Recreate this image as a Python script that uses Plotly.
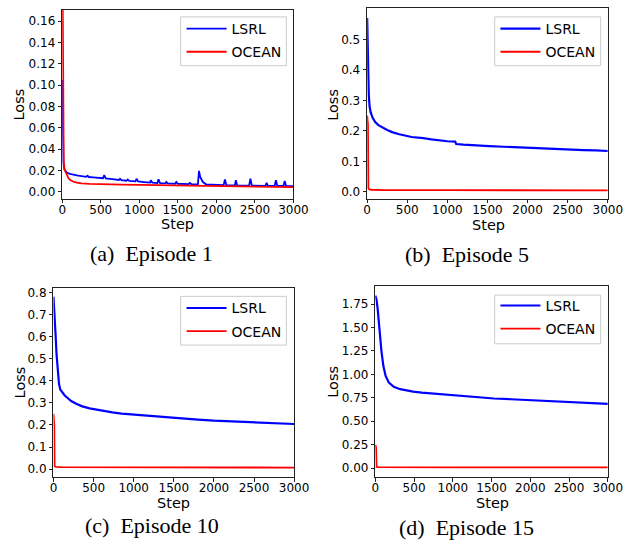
import plotly.graph_objects as go

# ---------------- data ----------------
# (a) Episode 1
a_lsrl_step = [0, 4, 8, 12, 16, 21, 30, 45, 63, 100, 150, 189, 250, 310, 330, 345, 400, 480, 530, 545, 565, 650, 735, 750, 770,
               835, 850, 870, 950, 965, 985, 1060, 1140, 1150, 1170, 1235, 1250, 1270, 1340, 1350, 1370, 1465, 1480, 1500,
               1560, 1640, 1655, 1680, 1760, 1775, 1790, 1825, 1870, 1950, 2095, 2111, 2130, 2240, 2253, 2270, 2425, 2442,
               2460, 2635, 2652, 2670, 2755, 2773, 2790, 2870, 2887, 2905, 2960, 3000]
a_lsrl_val = [0.105, 0.075, 0.050, 0.035, 0.028, 0.024, 0.021, 0.0195, 0.018, 0.0170, 0.0160, 0.0155, 0.0148, 0.0142, 0.0152,
              0.0140, 0.0137, 0.0132, 0.0129, 0.0158, 0.0128, 0.0120, 0.0112, 0.0124, 0.0111, 0.0105, 0.0116, 0.0104, 0.0099,
              0.0124, 0.0098, 0.0093, 0.0088, 0.0110, 0.0087, 0.0083, 0.0118, 0.0082, 0.0080, 0.0094, 0.0080, 0.0077, 0.0094,
              0.0077, 0.0076, 0.0073, 0.0084, 0.0072, 0.0070, 0.0198, 0.0140, 0.0093, 0.0070, 0.0067, 0.0064, 0.0118, 0.0064,
              0.0062, 0.0110, 0.0062, 0.0060, 0.0124, 0.0060, 0.0058, 0.0084, 0.0058, 0.0057, 0.0110, 0.0057, 0.0056, 0.0102,
              0.0056, 0.0055, 0.0055]
a_ocean_step = [0, 6, 10, 15, 20, 30, 45, 60, 80, 105, 140, 189, 250, 356, 500, 776, 1000, 1552, 2000, 2500, 3000]
a_ocean_val = [0.25, 0.20, 0.09, 0.045, 0.028, 0.021, 0.018, 0.0155, 0.0130, 0.0112, 0.0098, 0.0087, 0.0080, 0.0075, 0.0071,
               0.0068, 0.0066, 0.0062, 0.0057, 0.0051, 0.0045]

# (b) Episode 5
b_lsrl_step = [0, 5, 10, 15, 20, 30, 45, 70, 100, 140, 190, 250, 311, 400, 553, 650, 700, 800, 916, 1000, 1097, 1110, 1200,
               1300, 1400, 1520, 1700, 1850, 2005, 2200, 2350, 2490, 2700, 2850, 3000]
b_lsrl_val = [0.57, 0.50, 0.43, 0.37, 0.32, 0.28, 0.26, 0.242, 0.229, 0.219, 0.211, 0.203, 0.196, 0.189, 0.180, 0.178, 0.176,
              0.172, 0.168, 0.166, 0.165, 0.157, 0.155, 0.153, 0.152, 0.150, 0.148, 0.146, 0.144, 0.142, 0.140, 0.139, 0.137,
              0.136, 0.134]
b_ocean_step = [0, 10, 15, 25, 60, 200, 1000, 2000, 3000]
b_ocean_val = [0.25, 0.22, 0.012, 0.008, 0.007, 0.006, 0.0055, 0.0053, 0.0052]

# (c) Episode 10
c_lsrl_step = [0, 8, 15, 28, 38, 48, 58, 69, 85, 109, 140, 169, 220, 290, 360, 451, 550, 640, 734, 850, 1016, 1200, 1350,
               1500, 1650, 1800, 2000, 2250, 2500, 2750, 3000]
c_lsrl_val = [0.78, 0.74, 0.68, 0.595, 0.52, 0.46, 0.42, 0.385, 0.36, 0.347, 0.333, 0.324, 0.308, 0.295, 0.284, 0.275, 0.268,
              0.262, 0.257, 0.251, 0.246, 0.240, 0.235, 0.231, 0.229, 0.224, 0.219, 0.216, 0.212, 0.208, 0.204]
c_ocean_step = [0, 10, 14, 30, 100, 1000, 2000, 3000]
c_ocean_val = [0.25, 0.20, 0.013, 0.010, 0.009, 0.008, 0.0075, 0.007]

# (d) Episode 15
d_lsrl_step = [0, 15, 29, 54, 79, 104, 133, 175, 238, 321, 400, 488, 600, 739, 880, 1030, 1200, 1350, 1531, 1750, 2000, 2250,
               2500, 2750, 3000]
d_lsrl_val = [1.84, 1.80, 1.708, 1.46, 1.248, 1.089, 0.983, 0.912, 0.867, 0.842, 0.828, 0.817, 0.806, 0.796, 0.786, 0.778,
              0.766, 0.754, 0.743, 0.735, 0.725, 0.713, 0.700, 0.694, 0.686]
d_ocean_step = [0, 10, 16, 40, 1000, 2000, 3000]
d_ocean_val = [0.25, 0.22, 0.012, 0.010, 0.009, 0.0085, 0.008]

x_ticks = [0, 500, 1000, 1500, 2000, 2500, 3000]
captions = ["(a)\u00a0 Episode 1", "(b)\u00a0 Episode 5", "(c)\u00a0 Episode 10", "(d)\u00a0 Episode 15"]

panels = [
    (a_lsrl_step, a_lsrl_val, a_ocean_step, a_ocean_val),
    (b_lsrl_step, b_lsrl_val, b_ocean_step, b_ocean_val),
    (c_lsrl_step, c_lsrl_val, c_ocean_step, c_ocean_val),
    (d_lsrl_step, d_lsrl_val, d_ocean_step, d_ocean_val),
]

# ---------------- layout geometry ----------------
W, H = 639, 542
def px(x):
    return x / W
def py(y):
    return 1 - y / H

boxes = [  # left, right, top, bottom (pixels)
    (60, 298.3, 7, 197),
    (374.3, 622.3, 5, 197),
    (51, 299, 286.7, 476.7),
    (382.7, 622.3, 285, 476.7),
]
yranges = [[-0.0065, 0.1705], [-0.023, 0.603], [-0.036, 0.819], [-0.095, 1.938]]
ytickvals = [
    [0, 0.02, 0.04, 0.06, 0.08, 0.10, 0.12, 0.14, 0.16],
    [0, 0.1, 0.2, 0.3, 0.4, 0.5],
    [0, 0.1, 0.2, 0.3, 0.4, 0.5, 0.6, 0.7, 0.8],
    [0, 0.25, 0.5, 0.75, 1.0, 1.25, 1.5, 1.75],
]
yfmt = [".2f", ".1f", ".1f", ".2f"]
legend_frame = [(182, 291, 14, 63), (505.7, 615, 14, 63), (182, 291, 295, 344), (505.7, 615, 293.7, 342.7)]
legend_pos = [(183, 10), (506.5, 10), (183, 291), (506.5, 288.5)]
loss_pos = [(15, 102.5), (339.5, 102), (16, 382), (339, 381)]
step_pos = [(178.5, 222), (499, 223), (175, 503), (503, 503)]
cap_pos = [(152.5, 252), (476.7, 253), (153, 525), (477, 527)]
line_w = [1.8, 2.2, 2.2, 2.2]

fig = go.Figure()
sans = "DejaVu Sans"
layout = dict(
    width=W, height=H, margin=dict(l=0, r=0, t=0, b=0),
    paper_bgcolor="white", plot_bgcolor="white",
    font=dict(family=sans, size=13, color="black"),
    showlegend=True, annotations=[], shapes=[],
)

for i, (ls, lv, os_, ov) in enumerate(panels):
    n = "" if i == 0 else str(i + 1)
    leg = "legend" if i == 0 else "legend" + str(i + 1)
    fig.add_trace(go.Scatter(x=ls, y=lv, mode="lines", name="LSRL", line=dict(color="#0000ff", width=line_w[i]),
                             xaxis="x" + n, yaxis="y" + n, legend=leg, legendgroup="l%d" % i))
    fig.add_trace(go.Scatter(x=os_, y=ov, mode="lines", name="OCEAN", line=dict(color="#ff0000", width=1.8),
                             xaxis="x" + n, yaxis="y" + n, legend=leg, legendgroup="o%d" % i))
    l, r, t, b = boxes[i]
    common = dict(showgrid=False, zeroline=False, showline=True, linecolor="#222222", linewidth=1, mirror=True,
                  ticks="outside", ticklen=3.5, tickwidth=1, tickcolor="#222222",
                  tickfont=dict(family=sans, size=12, color="black"))
    layout["xaxis" + n] = dict(domain=[px(l), px(r)], anchor="y" + n, range=[0, 3000], tickvals=x_ticks,
                               ticktext=[str(v) for v in x_ticks], ticklabelstandoff=-4, **common)
    layout["yaxis" + n] = dict(domain=[py(b), py(t)], anchor="x" + n, range=yranges[i], tickvals=ytickvals[i],
                               tickformat=yfmt[i], **common)
    fl, fr, ft, fb = legend_frame[i]
    layout["shapes"].append(dict(type="rect", xref="paper", yref="paper", x0=px(fl), x1=px(fr), y0=py(fb), y1=py(ft),
                                 line=dict(color="#cccccc", width=1), fillcolor="rgba(255,255,255,0.8)", layer="above"))
    lx, ly = legend_pos[i]
    layout[leg] = dict(x=px(lx), y=py(ly), xanchor="left", yanchor="top", bgcolor="rgba(0,0,0,0)",
                       borderwidth=0, font=dict(family=sans, size=14, color="black"),
                       tracegroupgap=2, traceorder="grouped", itemwidth=40)
    sx, sy = loss_pos[i]
    layout["annotations"].append(dict(text="Loss", x=px(sx), y=py(sy), xref="paper", yref="paper", showarrow=False,
                                      textangle=-90, font=dict(family=sans, size=14.5, color="black"),
                                      xanchor="center", yanchor="middle"))
    tx, ty = step_pos[i]
    layout["annotations"].append(dict(text="Step", x=px(tx), y=py(ty), xref="paper", yref="paper", showarrow=False,
                                      font=dict(family=sans, size=14.5, color="black"),
                                      xanchor="center", yanchor="middle"))
    cx, cy = cap_pos[i]
    layout["annotations"].append(dict(text=captions[i], x=px(cx), y=py(cy), xref="paper", yref="paper",
                                      showarrow=False, font=dict(family="Liberation Serif", size=22, color="black"),
                                      xanchor="center", yanchor="middle"))

fig.update_layout(**layout)
fig.write_html("out.html", config={"displayModeBar": False},
               post_script="document.body.style.margin='0';document.body.style.padding='0';")
